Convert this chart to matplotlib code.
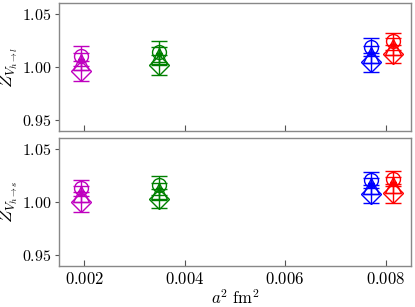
import matplotlib
matplotlib.use("Agg")
import matplotlib.pyplot as plt
import numpy as np

plt.rcParams['font.family'] = 'serif'
plt.rcParams['font.serif'] = ['cmr10', 'DejaVu Serif']
plt.rcParams['mathtext.fontset'] = 'cm'
plt.rcParams['axes.formatter.use_mathtext'] = True

# lattice spacings a^2 (fm^2)
a2 = [0.00194, 0.00350, 0.00771, 0.00814]
colors = ['m', 'g', 'b', 'r']

# panel 1: Z_{V_{h->l}}
top_circle = [1.0103, 1.0143, 1.0185, 1.0240]
top_circle_err = [0.0093, 0.0097, 0.0085, 0.0082]
top_tri = [1.0050, 1.0103, 1.0115, 1.0190]
top_tri_err = [0.0080, 0.0085, 0.0080, 0.0080]
top_diam = [0.9966, 1.0019, 1.0044, 1.0121]
top_diam_err = [0.0094, 0.0094, 0.0088, 0.0087]

# panel 2: Z_{V_{h->s}}
bot_circle = [1.0130, 1.0155, 1.0205, 1.0220]
bot_circle_err = [0.0073, 0.0085, 0.0075, 0.0072]
bot_tri = [1.0075, 1.0100, 1.0150, 1.0160]
bot_tri_err = [0.0075, 0.0080, 0.0075, 0.0075]
bot_diam = [1.0000, 1.0030, 1.0075, 1.0080]
bot_diam_err = [0.0090, 0.0090, 0.0085, 0.0085]

fig = plt.figure(figsize=(4.15, 3.07), dpi=100)
ax1 = fig.add_axes([0.142, 0.573, 0.848, 0.417])
ax2 = fig.add_axes([0.142, 0.1336, 0.848, 0.417])

def draw(ax, c, ce, t, te, d, de):
    for i in range(len(a2)):
        kw = dict(color=colors[i], mfc='none', capsize=6, elinewidth=1, lw=0, mew=1)
        ax.errorbar(a2[i], c[i], yerr=ce[i], fmt='o', ms=10, **kw)
        ax.errorbar(a2[i], t[i], yerr=te[i], fmt='^', ms=11, **kw)
        ax.errorbar(a2[i], d[i], yerr=de[i], fmt='D', ms=10, **kw)
        ax.plot(a2[i], t[i] + 0.002, marker='*', color=colors[i], ms=4, lw=0)

draw(ax1, top_circle, top_circle_err, top_tri, top_tri_err, top_diam, top_diam_err)
draw(ax2, bot_circle, bot_circle_err, bot_tri, bot_tri_err, bot_diam, bot_diam_err)

for ax in (ax1, ax2):
    ax.set_xlim(0.0015, 0.0085)
    ax.set_ylim(0.94, 1.06)
    ax.set_yticks([0.95, 1.00, 1.05])
    ax.set_yticklabels(['$0.95$', '$1.00$', '$1.05$'], fontsize=11.5)
    ax.set_xticks([0.002, 0.004, 0.006, 0.008])
    for s in ax.spines.values():
        s.set_color('#888888')
        s.set_linewidth(1.0)
    ax.tick_params(axis='x', direction='in', length=4, color='#555555')
    ax.tick_params(axis='y', direction='out', length=3, pad=2, color='#555555')
    ax.yaxis.set_label_coords(-0.11, 0.5)

ax1.set_xticklabels([])
ax2.set_xticklabels(['$0.002$', '$0.004$', '$0.006$', '$0.008$'], fontsize=12)
ax1.set_ylabel(r'$Z_{V_{h\to l}}$', fontsize=13)
ax2.set_ylabel(r'$Z_{V_{h\to s}}$', fontsize=13)
ax2.set_xlabel(r'$a^2\ \mathrm{fm}^2$', fontsize=12, labelpad=1)

fig.savefig('out.png', dpi=100)
